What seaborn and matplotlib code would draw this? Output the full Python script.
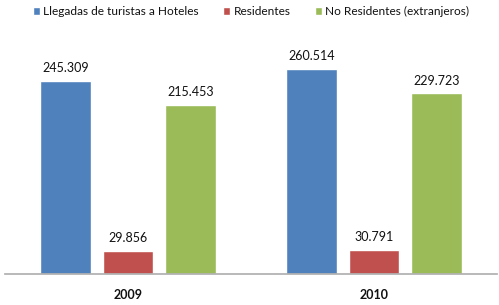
import pandas as pd
import seaborn as sns
import matplotlib.pyplot as plt

years = ["2009", "2010"]
series = ["Llegadas de turistas a Hoteles", "Residentes", "No Residentes (extranjeros)"]
hoteles = [245309, 260514]
residentes = [29856, 30791]
no_residentes = [215453, 229723]
colors = ["#4F81BD", "#C0504D", "#9BBB59"]

df = pd.DataFrame({
    "year": years * 3,
    "serie": [s for s in series for _ in years],
    "valor": hoteles + residentes + no_residentes,
})

sns.set_theme(style="white")
plt.rcParams["font.family"] = ["Lato", "DejaVu Sans"]

fig = plt.figure(figsize=(4.99, 3.05), dpi=100)
ax = fig.add_axes([0.01, 0.1016, 0.986, 0.773])

sns.barplot(data=df, x="year", y="valor", hue="serie", palette=colors,
            saturation=1, width=0.76, gap=0.19, ax=ax, legend=True)

ax.set_xlim(-0.5, 1.5)
ax.set_ylim(0, 300000)
ax.set_xlabel("")
ax.set_ylabel("")
ax.set_yticks([])
ax.tick_params(axis="x", length=0, labelsize=9, pad=11, labelcolor="#111111")
for t in ax.get_xticklabels():
    t.set_fontweight("bold")
for side in ["left", "right", "top"]:
    ax.spines[side].set_visible(False)
ax.spines["bottom"].set_color("#B0B0B0")

for cont in ax.containers:
    labels = [f"{int(v.get_height()):,}".replace(",", ".") for v in cont]
    ax.bar_label(cont, labels=labels, padding=5, fontsize=9, color="#111111")

handles, labs = ax.get_legend_handles_labels()
ax.legend(handles, labs, loc="center", bbox_to_anchor=(0.5, 1.113),
          ncol=3, frameon=False, fontsize=8.6, handlelength=0.6, handleheight=0.6,
          handletextpad=0.3, columnspacing=2.0, labelcolor="#111111")

plt.savefig("out.png", dpi=100)
